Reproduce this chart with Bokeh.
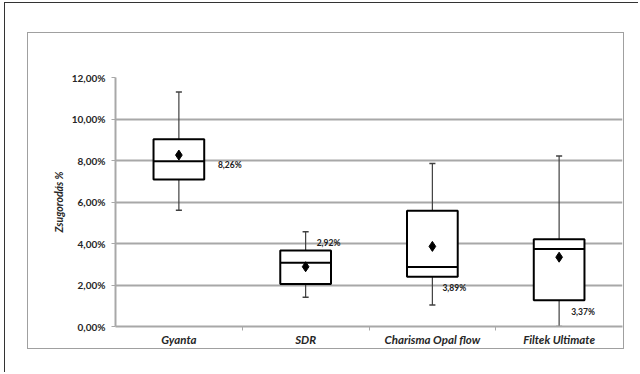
from bokeh.plotting import figure
from bokeh.layouts import column
from bokeh.models import Range1d, FixedTicker, CustomJSTickFormatter, ColumnDataSource
from bokeh.core.properties import value
from bokeh.embed import file_html
from bokeh.resources import INLINE

# ---- data ----
categories = ["Gyanta", "SDR", "Charisma Opal flow", "Filtek Ultimate"]
whisker_high = [11.30, 4.57, 7.86, 8.22]
q3 = [9.02, 3.66, 5.58, 4.21]
median = [7.96, 3.07, 2.87, 3.74]
q1 = [7.08, 2.05, 2.40, 1.26]
whisker_low = [5.60, 1.41, 1.04, 0.00]
mean = [8.26, 2.88, 3.86, 3.34]
mean_labels = ["8,26%", "2,92%", "3,89%", "3,37%"]
y_ticks = [0, 2, 4, 6, 8, 10, 12]

# label placement (layout, not data)
label_y = [7.78, 4.03, 1.87, 0.72]
label_dx = [39, 11, 10, 12]

FONT = "Lato"
x = [i + 0.5 for i in range(len(categories))]
half = 0.2
cap = 0.024

src = ColumnDataSource(dict(
    x=x, left=[v - half for v in x], right=[v + half for v in x],
    cl=[v - cap for v in x], cr=[v + cap for v in x],
    hi=whisker_high, q3=q3, med=median, q1=q1, lo=whisker_low, mean=mean,
    lab=mean_labels, ly=label_y, ldx=label_dx,
))

p = figure(width=595, height=315, output_backend="svg", toolbar_location=None,
           x_range=Range1d(0, 4), y_range=Range1d(0, 12),
           min_border_left=87, min_border_right=1, min_border_top=44,
           min_border_bottom=21, margin=(0, 0, 0, 0),
           styles={"outline": "1.5px solid #a0a0a0"})
p.outline_line_color = None
p.background_fill_color = "white"
p.border_fill_color = "white"

# grid
p.xgrid.grid_line_color = None
p.ygrid.ticker = FixedTicker(ticks=y_ticks)
p.ygrid.grid_line_color = "#a8a8a8"
p.ygrid.grid_line_width = 2

# y axis
p.yaxis.ticker = FixedTicker(ticks=y_ticks)
p.yaxis.formatter = CustomJSTickFormatter(
    code="return tick.toFixed(2).replace('.', ',') + '%';")
p.yaxis.axis_line_color = "#a8a8a8"
p.yaxis.axis_line_width = 2
p.yaxis.major_tick_line_color = "#a8a8a8"
p.yaxis.major_tick_out = 4
p.yaxis.major_tick_in = 0
p.yaxis.minor_tick_line_color = None
p.yaxis.minor_tick_out = 0
p.yaxis.minor_tick_in = 0
p.yaxis.major_label_text_font = FONT
p.yaxis.major_label_text_font_style = "bold"
p.yaxis.major_label_text_font_size = "10px"
p.yaxis.major_label_text_color = "#262626"
p.yaxis.major_label_standoff = 6
p.yaxis.axis_label = "Zsugorodás %"
p.yaxis.axis_label_text_font = FONT
p.yaxis.axis_label_text_font_style = "bold italic"
p.yaxis.axis_label_text_font_size = "10.5px"
p.yaxis.axis_label_text_color = "#262626"
p.yaxis.axis_label_standoff = 4

# x axis
p.xaxis.ticker = FixedTicker(ticks=x, minor_ticks=[1, 2, 3])
p.xaxis.major_label_overrides = {v: c for v, c in zip(x, categories)}
p.xaxis.axis_line_color = "#a8a8a8"
p.xaxis.axis_line_width = 2
p.xaxis.major_tick_line_color = None
p.xaxis.major_tick_out = 0
p.xaxis.major_tick_in = 0
p.xaxis.minor_tick_line_color = "#a8a8a8"
p.xaxis.minor_tick_out = 4
p.xaxis.minor_tick_in = 0
p.xaxis.major_label_text_font = FONT
p.xaxis.major_label_text_font_style = "bold italic"
p.xaxis.major_label_text_font_size = "11.5px"
p.xaxis.major_label_text_color = "#262626"
p.xaxis.major_label_standoff = 2

# whiskers
p.segment(x0="x", y0="lo", x1="x", y1="hi", source=src, line_color="#404040", line_width=1.2)
p.segment(x0="cl", y0="hi", x1="cr", y1="hi", source=src, line_color="#404040", line_width=1.5)
p.segment(x0="cl", y0="lo", x1="cr", y1="lo", source=src, line_color="#404040", line_width=1.5)

# boxes
p.quad(left="left", right="right", bottom="q1", top="q3", source=src,
       fill_color="white", line_color="black", line_width=2)
p.segment(x0="left", y0="med", x1="right", y1="med", source=src,
          line_color="black", line_width=2)

# mean
p.scatter(x="x", y="mean", source=src, marker="diamond", size=10,
          fill_color="black", line_color="black")

# mean labels
p.text(x="x", y="ly", text="lab", x_offset="ldx", source=src,
       text_font=value(FONT), text_font_size="8.5px", text_font_style="bold",
       text_color="#202020", text_align="left", text_baseline="middle")

page = column(p, margin=(2, 0, 0, 4),
              styles={"border-left": "1px solid #333", "border-top": "1px solid #333",
                      "padding": "30px 15px 24px 23px", "background": "white"})

open("out.html", "w").write(file_html(page, INLINE))
